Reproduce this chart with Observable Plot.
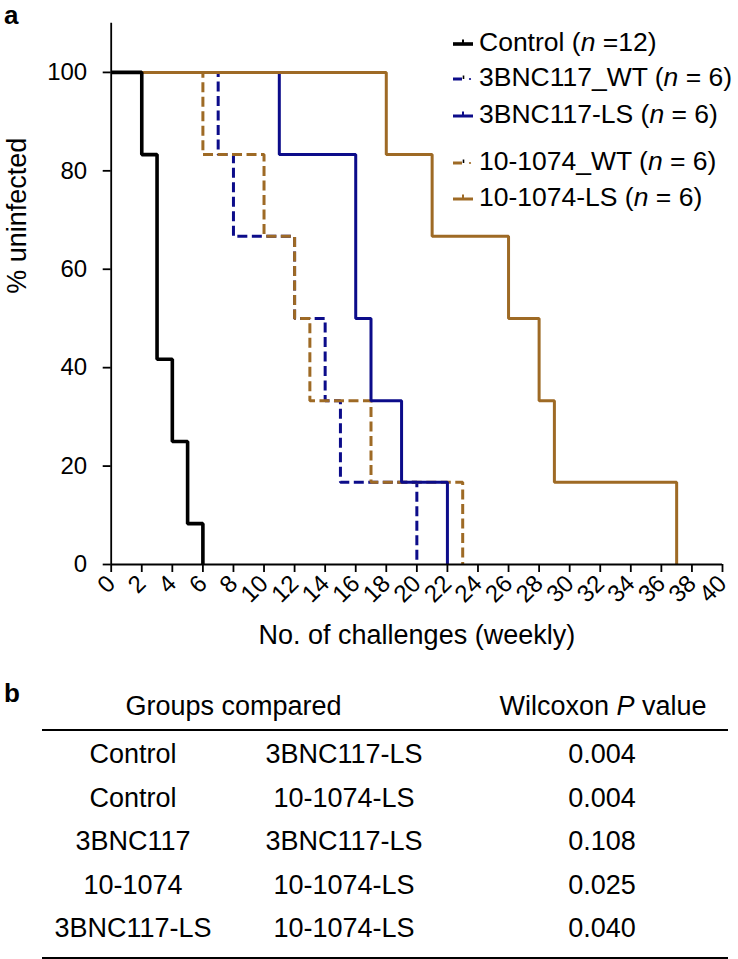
<!DOCTYPE html>
<html>
<head>
<meta charset="utf-8">
<script src="https://cdn.jsdelivr.net/npm/d3@7"></script>
<script src="https://cdn.jsdelivr.net/npm/@observablehq/plot@0.6"></script>
<style>
  body { margin: 0; background: #fff; font-family: "Liberation Sans", Arial, Helvetica, sans-serif; color: #000; }
  #fig { position: relative; width: 738px; height: 959px; overflow: hidden; background: #fff; }
  #fig > svg { position: absolute; left: 0; top: 0; }
  .abs { position: absolute; white-space: nowrap; }
  .panel { font-weight: bold; font-size: 26px; line-height: 30px; }
  .leg { font-size: 26.5px; line-height: 30px; display: flex; align-items: center; }
  .leg svg { flex: none; display: block; }
  .cell { font-size: 27px; line-height: 30px; text-align: center; width: 320px; }
  .rule { background: #000; height: 2px; }
</style>
</head>
<body>
<div id="fig"></div>
<script>
// ---------- data ----------
const xTicks = [0, 2, 4, 6, 8, 10, 12, 14, 16, 18, 20, 22, 24, 26, 28, 30, 32, 34, 36, 38, 40];
const yTicks = [0, 20, 40, 60, 80, 100];

const controlWeeks = [0, 2, 3, 4, 5, 6];
const controlPct   = [100, 83.3, 41.7, 25, 8.3, 0];

const bnc117WTWeeks = [0, 7, 8, 12, 14, 15, 20];
const bnc117WTPct   = [100, 83.3, 66.7, 50, 33.3, 16.7, 0];

const bnc117LSWeeks = [0, 11, 16, 17, 19, 22];
const bnc117LSPct   = [100, 83.3, 50, 33.3, 16.7, 0];

const c1074WTWeeks = [0, 6, 10, 12, 13, 17, 23];
const c1074WTPct   = [100, 83.3, 66.7, 50, 33.3, 16.7, 0];

const c1074LSWeeks = [0, 18, 21, 26, 28, 29, 37];
const c1074LSPct   = [100, 83.3, 66.7, 50, 33.3, 16.7, 0];

const legendNames = ["Control", "3BNC117_WT", "3BNC117-LS", "10-1074_WT", "10-1074-LS"];
const legendN     = ["=12", "= 6", "= 6", "= 6", "= 6"];

const xTitle = "No. of challenges (weekly)";
const yTitle = "% uninfected";

const groupA  = ["Control", "Control", "3BNC117", "10-1074", "3BNC117-LS"];
const groupB  = ["3BNC117-LS", "10-1074-LS", "3BNC117-LS", "10-1074-LS", "10-1074-LS"];
const pValues = ["0.004", "0.004", "0.108", "0.025", "0.040"];

// ---------- styles ----------
const NAVY = "#0c0c8a";
const BROWN = "#9e6a25";
const BLACK = "#000";
const FONT = '"Liberation Sans", Arial, Helvetica, sans-serif';

function rows(weeks, pct) { return weeks.map((w, i) => ({week: w, pct: pct[i]})); }

// draw order: bottom -> top
const series = [
  {key: "3BNC117_WT", data: rows(bnc117WTWeeks, bnc117WTPct), stroke: NAVY, width: 3, dash: "10,4.5"},
  {key: "10-1074_WT", data: rows(c1074WTWeeks, c1074WTPct), stroke: BROWN, width: 3, dash: "10,4.5"},
  {key: "3BNC117-LS", data: rows(bnc117LSWeeks, bnc117LSPct), stroke: NAVY, width: 3, dash: null},
  {key: "10-1074-LS", data: rows(c1074LSWeeks, c1074LSPct), stroke: BROWN, width: 3, dash: null},
  {key: "Control", data: rows(controlWeeks, controlPct), stroke: BLACK, width: 3.6, dash: null}
];

const lineMarks = series.map(s => Plot.line(s.data, {
  x: "week", y: "pct", curve: "step-after",
  stroke: s.stroke, strokeWidth: s.width,
  strokeDasharray: s.dash || undefined,
  strokeLinecap: "butt", strokeLinejoin: "miter"
}));

const chart = Plot.plot({
  width: 738,
  height: 664,
  marginLeft: 110.7,
  marginRight: 16,
  marginTop: 22.7,
  marginBottom: 100,
  x: {domain: [0, 40]},
  y: {domain: [0, 110]},
  style: {fontFamily: FONT, fontSize: "24px", color: "#000", background: "transparent", overflow: "visible"},
  marks: [
    ...lineMarks,
    Plot.ruleX([0], {stroke: "#000", strokeWidth: 1.8}),
    Plot.ruleY([0], {stroke: "#000", strokeWidth: 2}),
    Plot.axisX({ticks: xTicks, tickSize: 8, tickPadding: 7, tickRotate: -45, textAnchor: "end",
                fontSize: 24, strokeWidth: 1.8, label: null, tickFormat: d => String(d)}),
    Plot.axisY({ticks: yTicks, tickSize: 8, tickPadding: 16, fontSize: 24, strokeWidth: 1.8,
                label: null, tickFormat: d => String(d)}),
    Plot.text([xTitle], {text: d => d, frameAnchor: "bottom", dy: 79, lineAnchor: "bottom", fontSize: 27}),
    Plot.text([yTitle], {text: d => d, frameAnchor: "left", dx: -94, rotate: -90, fontSize: 27})
  ]
});

const fig = document.getElementById("fig");
fig.appendChild(chart);

// ---------- helpers ----------
function addDiv(cls, html, left, top, extra) {
  const d = document.createElement("div");
  d.className = "abs " + cls;
  d.innerHTML = html;
  d.style.left = left + "px";
  d.style.top = top + "px";
  if (extra) Object.assign(d.style, extra);
  fig.appendChild(d);
  return d;
}
addDiv("panel", "a", 4, 0);
addDiv("panel", "b", 4, 678);

// ---------- legend ----------
const legendY = [43.3, 78.3, 115, 161.7, 198.3];
const legendStyle = {
  "Control":    {stroke: BLACK, dashed: false, w: 3.6},
  "3BNC117_WT": {stroke: NAVY,  dashed: true,  w: 3},
  "3BNC117-LS": {stroke: NAVY,  dashed: false, w: 3},
  "10-1074_WT": {stroke: BROWN, dashed: true,  w: 3},
  "10-1074-LS": {stroke: BROWN, dashed: false, w: 3}
};
legendNames.forEach((name, i) => {
  const st = legendStyle[name];
  const sample = st.dashed
    ? `<svg width="24" height="14" style="margin-right:3px;overflow:visible">
         <line x1="1" x2="10" y1="9" y2="9" stroke="${st.stroke}" stroke-width="${st.w}"/>
         <line x1="11.5" x2="11.5" y1="9" y2="5.5" stroke="${BLACK}" stroke-width="1.6"/>
         <circle cx="18" cy="9" r="1.1" fill="${st.stroke}"/>
       </svg>`
    : `<svg width="24" height="14" style="margin-right:3px;overflow:visible">
         <line x1="1" x2="21" y1="9" y2="9" stroke="${st.stroke}" stroke-width="${st.w}"/>
         <line x1="11" x2="11" y1="9" y2="4.5" stroke="${st.stroke}" stroke-width="2"/>
       </svg>`;
  addDiv("leg", `${sample}<span>${name} (<i>n</i> ${legendN[i]})</span>`, 452, legendY[i] - 16);
});

// ---------- table ----------
const colX = [133, 344, 602];
const rowY0 = 755, rowStep = 43.5;
addDiv("cell", "Groups compared", 233.6 - 160, 707 - 16);
addDiv("cell", "Wilcoxon <i>P</i> value", 603 - 160, 707 - 16);
addDiv("rule", "", 42, 729, {width: "686px"});
groupA.forEach((a, i) => {
  const cy = rowY0 + i * rowStep;
  addDiv("cell", a, colX[0] - 160, cy - 16);
  addDiv("cell", groupB[i], colX[1] - 160, cy - 16);
  addDiv("cell", pValues[i], colX[2] - 160, cy - 16);
});
addDiv("rule", "", 42, 956.5, {width: "686px"});
</script>
</body>
</html>
